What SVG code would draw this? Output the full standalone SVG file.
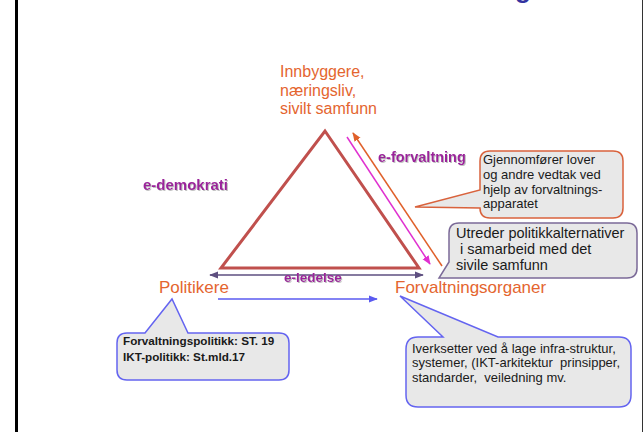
<svg xmlns="http://www.w3.org/2000/svg" width="644" height="432" viewBox="0 0 644 432">
<style>
text{font-family:"Liberation Sans",Arial,sans-serif}
.org{fill:#e4652f;font-size:17px}
.eterm{fill:#9b239b;font-weight:bold}
.co{fill:#e8e8e8;stroke-width:1.5}
.ct{fill:#1a1a1a;white-space:pre}
</style>
<defs>
<filter id="sh" x="-10%" y="-30%" width="130%" height="170%">
<feDropShadow dx="1" dy="1" stdDeviation="0.6" flood-color="#999" flood-opacity="0.6"/>
</filter>
<marker id="mMag" viewBox="0 0 10 10" refX="9" refY="5" markerWidth="6" markerHeight="6" orient="auto-start-reverse"><path d="M0,1 L10,5 L0,9 Z" fill="#e030d0"/></marker>
<marker id="mOr" viewBox="0 0 10 10" refX="9" refY="5" markerWidth="6" markerHeight="6" orient="auto-start-reverse"><path d="M0,1 L10,5 L0,9 Z" fill="#e0602a"/></marker>
<marker id="mPu" viewBox="0 0 10 10" refX="9" refY="5" markerWidth="6" markerHeight="6" orient="auto-start-reverse"><path d="M0,1 L10,5 L0,9 Z" fill="#5e4f80"/></marker>
<marker id="mBl" viewBox="0 0 10 10" refX="9" refY="5" markerWidth="6" markerHeight="6" orient="auto-start-reverse"><path d="M0,1 L10,5 L0,9 Z" fill="#5a5af0"/></marker>
</defs>
<rect x="0" y="0" width="644" height="432" fill="#fff"/>
<rect x="15" y="0" width="3" height="432" fill="#000"/>
<line x1="642.5" y1="0" x2="642.5" y2="432" stroke="#333" stroke-width="1"/>
<text x="515" y="-2" font-size="26" font-weight="bold" fill="#3333a0">g</text>

<g id="triangle">
<polygon points="325,131 419,268 221,268" fill="none" stroke="#c0504d" stroke-width="3" stroke-linejoin="miter"/>
</g>

<g id="connectors">
<line x1="347" y1="137" x2="430" y2="264" stroke="#e030d0" stroke-width="1.5" marker-end="url(#mMag)"/>
<line x1="442" y1="266" x2="353" y2="133" stroke="#e0602a" stroke-width="1.5" marker-end="url(#mOr)"/>
<line x1="210" y1="275" x2="423" y2="275" stroke="#5e4f80" stroke-width="1.5" marker-start="url(#mPu)" marker-end="url(#mPu)"/>
<line x1="218" y1="299" x2="377" y2="299" stroke="#5a5af0" stroke-width="1.5" marker-end="url(#mBl)"/>
</g>

<g id="innbyggere">
<text class="org" style="font-size:16px"><tspan x="280" y="77">Innbyggere,</tspan><tspan x="280" y="96">næringsliv,</tspan><tspan x="280" y="114">sivilt samfunn</tspan></text>
</g>
<g id="politikere"><text class="org" x="159" y="293">Politikere</text></g>
<g id="forvaltningsorganer"><text class="org" x="395" y="293">Forvaltningsorganer</text></g>

<g id="e-forvaltning"><text class="eterm" x="378" y="162" font-size="14.5" filter="url(#sh)">e-forvaltning</text></g>
<g id="e-demokrati"><text class="eterm" x="143" y="190" font-size="15" filter="url(#sh)">e-demokrati</text></g>
<g id="e-ledelse"><text class="eterm" x="284" y="282" font-size="13.5" filter="url(#sh)">e-ledelse</text></g>

<g id="callout-gjennomforer">
<path class="co" stroke="#d9623c" d="M490,151 L613,151 Q623,151 623,161 L623,208 Q623,218 613,218 L490,218 Q480,218 480,208 L415,207 L480,190 L480,161 Q480,151 490,151 Z"/>
<text class="ct" font-size="13"><tspan x="483" y="164">Gjennomfører lover</tspan><tspan x="483" y="179">og andre vedtak ved</tspan><tspan x="483" y="194">hjelp av forvaltnings-</tspan><tspan x="483" y="208">apparatet</tspan></text>
</g>

<g id="callout-utreder">
<path class="co" stroke="#7b6a98" d="M459,223 L627,223 Q637,223 637,233 L637,268 Q637,278 627,278 L458,278 L439,278 L449,262 L449,233 Q449,223 459,223 Z"/>
<text class="ct" font-size="14.5"><tspan x="456" y="238">Utreder politikkalternativer</tspan><tspan x="456" y="254"> i samarbeid med det</tspan><tspan x="456" y="270">sivile samfunn</tspan></text>
</g>

<g id="callout-politikk">
<path class="co" stroke="#6464f0" d="M127,333 L145,333 L172,299 L188,333 L279,333 Q289,333 289,343 L289,370 Q289,380 279,380 L127,380 Q117,380 117,370 L117,343 Q117,333 127,333 Z"/>
<text class="ct" font-size="11.7" font-weight="bold"><tspan x="123" y="345">Forvaltningspolitikk: ST. 19</tspan><tspan x="123" y="361">IKT-politikk: St.mld.17</tspan></text>
</g>

<g id="callout-iverksetter">
<path class="co" stroke="#6464f0" d="M418,337 L443,337 L400,296 L498,337 L619,337 Q631,337 631,349 L631,395 Q631,407 619,407 L418,407 Q406,407 406,395 L406,349 Q406,337 418,337 Z"/>
<text class="ct" font-size="13"><tspan x="412" y="353">Iverksetter ved å lage infra-struktur,</tspan><tspan x="412" y="367">systemer, (IKT-arkitektur  prinsipper,</tspan><tspan x="412" y="382">standarder,  veiledning mv.</tspan></text>
</g>
</svg>
